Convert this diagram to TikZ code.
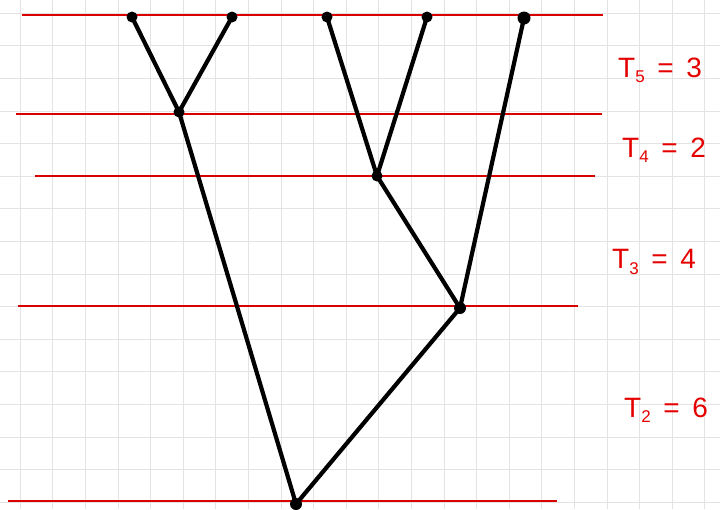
\documentclass[tikz,border=0pt]{standalone}
\usepackage{fontspec}
\setmainfont{Liberation Sans}
\newcommand{\tlab}[2]{T\raisebox{-0.35ex}{\fontsize{17}{20}\selectfont #1}\hspace{0.45em}=\hspace{0.45em}#2}
\begin{document}
\begin{tikzpicture}[x=1pt,y=-1pt,
  redline/.style={draw=red!85!black,line width=2pt},
  edge/.style={draw=black,line width=4.2pt,line cap=round},
  dot/.style={circle,fill=black,inner sep=0pt,minimum size=11pt},
  lab/.style={text=red!90!black,font=\fontsize{28}{31}\selectfont,anchor=west,inner sep=0pt}]
\useasboundingbox (0,0) rectangle (720,509);
\fill[white] (0,0) rectangle (720,509);
% grid
\foreach \i in {0,...,22} {\draw[gray!22,line width=0.9pt] ({20.3+32.6*(\i-1)},0) -- ({20.3+32.6*(\i-1)},509);}
\foreach \j in {0,...,15} {\draw[gray!22,line width=0.9pt] (0,{13.3+32.6*\j}) -- (720,{13.3+32.6*\j});}
% red levels
\coordinate (r1a) at (22,15);  \coordinate (r1b) at (603,15);
\coordinate (r2a) at (16,114); \coordinate (r2b) at (602,114);
\coordinate (r3a) at (35,176); \coordinate (r3b) at (595,176);
\coordinate (r4a) at (18,306); \coordinate (r4b) at (578,306);
\coordinate (r5a) at (8,501);  \coordinate (r5b) at (557,501);
\draw[redline] (r1a) -- (r1b);
\draw[redline] (r2a) -- (r2b);
\draw[redline] (r3a) -- (r3b);
\draw[redline] (r4a) -- (r4b);
\draw[redline] (r5a) -- (r5b);
% nodes
\node[dot] (l1) at (132,17) {};
\node[dot] (l2) at (232,17) {};
\node[dot] (l3) at (327,17) {};
\node[dot] (l4) at (427,17) {};
\node[dot,minimum size=13pt] (l5) at (524,18) {};
\node[dot] (a) at (179,112) {};
\node[dot] (b) at (377,176) {};
\node[dot,minimum size=12pt] (c) at (460,308) {};
\node[dot,minimum size=12pt] (r) at (296,504) {};
% edges
\draw[edge] (l1.center) -- (a.center);
\draw[edge] (l2.center) -- (a.center);
\draw[edge] (l3.center) -- (b.center);
\draw[edge] (l4.center) -- (b.center);
\draw[edge] (b.center) -- (c.center);
\draw[edge] (l5.center) -- (c.center);
\draw[edge] (a.center) -- (r.center);
\draw[edge] (c.center) -- (r.center);
% labels
\node[lab] (t5) at (618,70) {\tlab{5}{3}};
\node[lab] (t4) at (622,150) {\tlab{4}{2}};
\node[lab] (t3) at (612,262) {\tlab{3}{4}};
\node[lab] (t2) at (624,410) {\tlab{2}{6}};
\end{tikzpicture}
\end{document}
